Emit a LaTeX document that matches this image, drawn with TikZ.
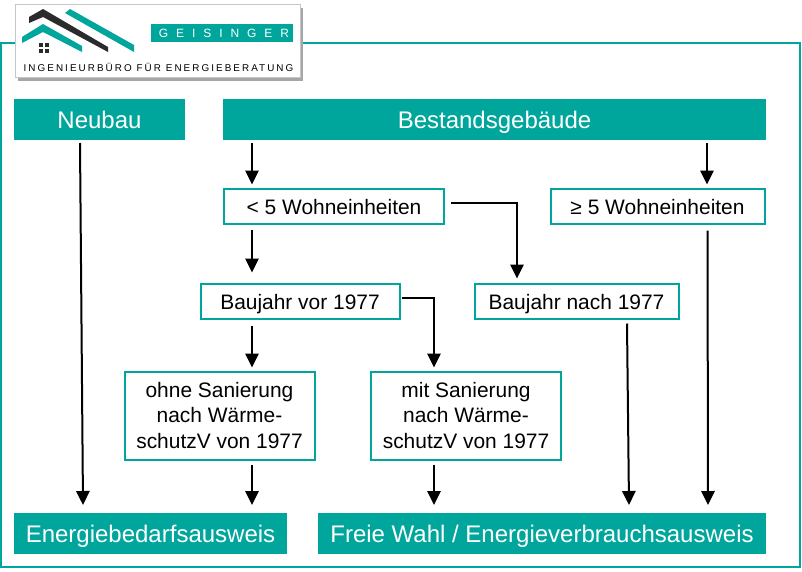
\documentclass[tikz,border=0pt]{standalone}
\usepackage{fontspec}
\setmainfont{Liberation Sans}
\newfontfamily\logofont[LetterSpace=66]{Liberation Sans}
\newfontfamily\logosub[LetterSpace=21]{Liberation Sans}
\usetikzlibrary{arrows.meta}
\definecolor{geisteal}{HTML}{00A69B}
\definecolor{geisdark}{HTML}{2B2B2B}
\tikzset{
  kopf/.style={fill=geisteal, text=white, inner sep=0pt, outer sep=0pt, text height=16pt, text depth=2.5pt, font=\fontsize{18}{22}\selectfont},
  stufe/.style={draw=geisteal, line width=1.5pt, fill=white, inner sep=0pt, outer sep=0pt, align=center, font=\fontsize{15.7}{19.2}\selectfont},
  einzeilig/.style={stufe, text height=12pt, text depth=0pt, minimum height=26.25pt},
  pfeil/.style={-{Triangle[width=10pt,length=10.5pt]}, line width=1.5pt, black}
}
\begin{document}
\begin{tikzpicture}[x=0.75pt,y=-0.75pt]
    \useasboundingbox (0,0) rectangle (802,571);
    \fill[white] (0,0) rectangle (802,571);

    % Frame
    \draw[geisteal, line width=1.5pt] (1,43) rectangle (800,567);

    % Logo
    \fill[gray!70] (18,8) rectangle (303,81);
    \draw[gray!45, fill=white, line width=0.75pt] (15,4) rectangle (300,77);
    \fill[geisdark] (29,17) -- (29,23) -- (43,17) -- (108,52) -- (108,47) -- (43,9) -- cycle;
    \fill[geisteal] (65,13) -- (70,9) -- (134,45) -- (134,52) -- cycle;
    \fill[geisteal] (22,37) -- (43,24) -- (82,46) -- (82,52) -- (43,32) -- (22,43) -- cycle;
    \foreach \wx in {39,45} {
        \foreach \wy in {43,49} {
            \fill[geisdark] (\wx,\wy) rectangle ++(4,4);
        }
    }
    \node[fill=geisteal, text=white, inner sep=0pt, minimum width=106.5pt, minimum height=14pt, font=\logofont\fontsize{9}{10}\selectfont] (logoname) at (222,33) {\kern3ptGEISINGER};
    \node[text=black, inner sep=0pt, font=\logosub\fontsize{7.4}{9}\selectfont] (logosub) at (158.5,67) {INGENIEURBÜRO FÜR ENERGIEBERATUNG};

    % Top row
    \node[kopf, minimum width=128.25pt, minimum height=30.75pt] (neubau) at (99.5,119.5) {Neubau};
    \node[kopf, minimum width=407.25pt, minimum height=30.75pt] (bestand) at (494.5,119.5) {Bestandsgebäude};

    % Steps
    \node[einzeilig, minimum width=165pt] (klein) at (334,206) {< 5 Wohneinheiten};
    \node[einzeilig, minimum width=160.5pt] (gross) at (657.5,206) {≥ 5 Wohneinheiten};
    \node[einzeilig, minimum width=149.25pt] (vor) at (300,301) {Baujahr vor 1977};
    \node[einzeilig, minimum width=153pt] (nach) at (576.5,301) {Baujahr nach 1977};
    \node[stufe, minimum width=142.5pt, minimum height=66pt] (ohne) at (219.5,415.5) {ohne Sanierung\\nach Wärme-\\schutzV von 1977};
    \node[stufe, minimum width=142.5pt, minimum height=66pt] (mit) at (466,415.5) {mit Sanierung\\nach Wärme-\\schutzV von 1977};

    % Bottom row
    \node[kopf, minimum width=204.75pt, minimum height=30.75pt] (bedarf) at (150.5,533.5) {Energiebedarfsausweis};
    \node[kopf, minimum width=336pt, minimum height=30.75pt] (wahl) at (542,533.5) {Freie Wahl / Energieverbrauchsausweis};

    % Arrows
    \draw[pfeil] ([shift={(66,3)}]neubau.south west) -- ([shift={(69,-8)}]bedarf.north west);
    \draw[pfeil] ([shift={(29,3)}]bestand.south west) -- ([shift={(28,-4)}]klein.north west);
    \draw[pfeil] ([shift={(484,3)}]bestand.south west) -- ([shift={(156.5,-4)}]gross.north west);
    \draw[pfeil] ([shift={(28,6)}]klein.south west) -- ([shift={(51.5,-11)}]vor.north west);
    \draw[pfeil] ([shift={(7,-3)}]klein.east) -| ([shift={(42.5,-5)}]nach.north west);
    \draw[pfeil] ([shift={(157,7)}]gross.south west) -- ([shift={(390,-8)}]wahl.north west);
    \draw[pfeil] ([shift={(51.5,7)}]vor.south west) -- ([shift={(127.5,-4)}]ohne.north west);
    \draw[pfeil] ([shift={(2,-3)}]vor.east) -| ([shift={(63,-4)}]mit.north west);
    \draw[pfeil] ([shift={(152.5,5)}]nach.south west) -- ([shift={(311,-8)}]wahl.north west);
    \draw[pfeil] ([shift={(127.5,5)}]ohne.south west) -- ([shift={(238,-8)}]bedarf.north west);
    \draw[pfeil] ([shift={(63,5)}]mit.south west) -- ([shift={(116,-8)}]wahl.north west);
\end{tikzpicture}
\end{document}
